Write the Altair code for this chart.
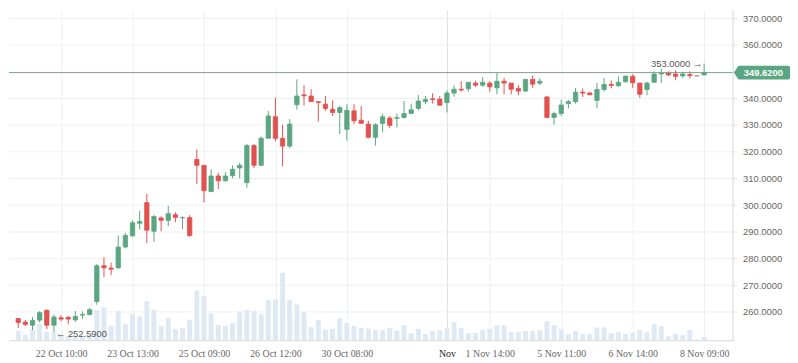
import altair as alt
import pandas as pd
import numpy as np

# ---- data ----
opens = [257.5, 256.2, 255.0, 256.9, 260.6, 255.0, 257.8, 258.0, 257.0, 258.8,
         259.0, 263.9, 277.3, 276.4, 276.5, 284.3, 288.5, 293.2, 300.9, 290.2,
         295.2, 294.3, 296.4, 295.3, 295.3, 317.1, 314.9, 305.05, 310.9, 309.1,
         311.0, 313.9, 308.4, 322.3, 314.9, 325.05, 333.1, 325.0, 322.1, 337.6,
         341.3, 340.85, 338.75, 337.8, 335.9, 334.7, 328.4, 335.3, 331.8, 330.35,
         325.4, 330.6, 332.6, 332.5, 332.8, 334.3, 336.2, 338.75, 339.8, 339.7,
         338.4, 341.96, 343.4, 343.6, 345.7, 344.9, 345.7, 343.9, 346.4, 345.7,
         343.7, 342.7, 347.1, 345.7, 340.5, 332.8, 334.3, 338.0, 338.75, 342.3,
         342.0, 339.2, 343.3, 345.2, 344.7, 346.2, 348.25, 345.7, 343.3, 346.0,
         349.1, 349.5, 349.1, 348.4, 348.9, 348.4, 348.75]
highs = [257.7, 257.0, 258.1, 260.3, 261.0, 259.1, 258.7, 258.4, 260.3, 260.2,
         261.5, 277.9, 280.5, 278.4, 288.6, 289.6, 294.3, 297.9, 304.2, 296.4,
         295.8, 299.7, 297.3, 295.8, 296.2, 320.9, 314.9, 313.4, 312.1, 312.3,
         314.9, 315.9, 322.9, 322.9, 325.7, 335.3, 340.2, 330.1, 332.2, 347.1,
         344.9, 343.4, 338.8, 340.85, 339.2, 337.1, 337.8, 337.8, 337.1, 331.6,
         330.6, 334.3, 333.4, 334.3, 339.0, 338.0, 341.2, 340.85, 341.9, 340.85,
         342.95, 344.9, 346.4, 346.0, 346.65, 347.9, 346.4, 349.5, 347.6, 345.7,
         344.9, 347.1, 348.5, 347.5, 340.85, 335.0, 339.4, 339.4, 343.8, 343.7,
         342.3, 345.8, 347.6, 346.7, 348.2, 348.5, 349.0, 345.7, 346.2, 350.1,
         351.1, 350.1, 350.5, 349.9, 350.1, 348.4, 353.0]
lows = [254.0, 254.7, 253.2, 256.0, 253.6, 252.59, 256.5, 255.4, 256.3, 257.3,
        258.8, 262.7, 273.0, 273.8, 276.0, 283.8, 288.1, 290.9, 285.7, 286.2,
        290.2, 292.1, 293.6, 290.9, 288.1, 307.9, 301.0, 305.0, 306.0, 308.8,
        310.0, 310.0, 306.5, 313.9, 314.6, 325.0, 323.9, 314.5, 321.3, 335.8,
        337.3, 338.75, 331.3, 335.3, 333.4, 326.65, 324.2, 330.3, 330.6, 325.0,
        322.3, 327.3, 328.75, 329.1, 332.45, 334.05, 335.5, 337.75, 338.0, 337.4,
        334.7, 340.6, 342.45, 342.45, 344.3, 344.3, 342.45, 341.5, 341.5, 341.5,
        341.1, 342.45, 343.9, 344.9, 332.8, 330.1, 333.4, 336.2, 338.0, 340.5,
        341.3, 336.2, 342.5, 343.7, 344.3, 345.9, 343.9, 340.2, 341.1, 345.8,
        345.8, 348.25, 346.8, 347.6, 347.4, 348.4, 348.75]
closes = [256.0, 255.3, 256.8, 259.7, 255.0, 258.1, 257.3, 257.3, 258.3, 259.0,
          260.8, 277.3, 276.5, 276.0, 284.3, 288.6, 293.4, 293.9, 290.6, 295.7,
          294.3, 296.8, 295.4, 295.3, 288.6, 314.9, 305.4, 310.9, 309.1, 310.9,
          313.45, 314.9, 322.3, 314.9, 325.05, 333.4, 325.0, 322.1, 330.35, 340.85,
          340.9, 338.75, 338.4, 336.2, 334.7, 336.5, 335.5, 331.6, 330.6, 325.4,
          330.1, 333.1, 329.85, 332.8, 334.3, 335.7, 339.0, 339.6, 339.5, 337.4,
          341.96, 343.4, 343.1, 346.0, 344.9, 346.0, 344.3, 346.4, 345.7, 343.4,
          342.7, 347.1, 345.3, 346.4, 332.8, 334.3, 337.5, 338.75, 342.3, 341.96,
          341.3, 343.3, 345.2, 344.8, 346.0, 348.3, 345.8, 341.5, 345.7, 349.1,
          349.5, 348.75, 348.25, 349.1, 348.5, 348.4, 349.62]
volumes = [960, 530, 1060, 1630, 830, 900, 500, 400, 400, 500,
           600, 3060, 3330, 1460, 2960, 1630, 2660, 2400, 3960, 3060,
           1460, 2230, 1130, 1230, 2060, 5030, 4460, 2700, 1560, 1460,
           1730, 2900, 3060, 2960, 2630, 4060, 4130, 6830, 4060, 3630,
           2830, 1330, 2060, 1060, 1160, 2230, 1730, 1460, 1230, 1160,
           1030, 1030, 1230, 960, 1530, 730, 1160, 630, 930, 1030,
           1230, 1830, 1230, 730, 730, 1030, 1130, 1500, 1500, 800,
           800, 930, 930, 1030, 1930, 1530, 1130, 630, 930, 630,
           630, 1300, 1300, 730, 830, 630, 730, 1030, 830, 1600,
           1430, 400, 630, 530, 1030, 70, 330]

tick_idx = [6, 16, 26, 36, 46, 60, 66, 76, 86, 96]
tick_labels = ["22 Oct 10:00", "23 Oct 13:00", "25 Oct 09:00", "26 Oct 12:00",
               "30 Oct 08:00", "Nov", "1 Nov 14:00", "5 Nov 11:00",
               "6 Nov 14:00", "8 Nov 09:00"]
month_tick = 60
price_ticks = [260, 270, 280, 290, 300, 310, 320, 330, 340, 360, 370]

GREEN = "#5aa682"
RED = "#e05250"
GREY = "#8a8a8a"

n = len(opens)
df = pd.DataFrame({"i": list(range(n)), "open": opens, "high": highs,
                   "low": lows, "close": closes, "vol": volumes})
o = np.array(opens)
c = np.array(closes)
df["dir"] = np.where(c > o, "up", np.where(c < o, "down", "flat"))

color_scale = alt.Scale(domain=["up", "down", "flat"], range=[GREEN, RED, GREY])

label_expr = " : ".join(f"datum.value == {v} ? '{t}'" for v, t in zip(tick_idx, tick_labels)) + " : ''"

X = alt.X("i:Q",
          scale=alt.Scale(domain=[-0.6, 99.3], nice=False, zero=False),
          axis=alt.Axis(values=tick_idx, labelExpr=label_expr, title=None,
                        grid=True,
                        gridColor={"condition": {"test": f"datum.value == {month_tick}", "value": "#dde1e6"}, "value": "#edf0f3"},
                        domainColor="#d3d7dc", ticks=False, tickSize=0,
                        labelPadding=8, labelFont="Liberation Serif", labelFontSize=10,
                        labelColor={"condition": {"test": f"datum.value == {month_tick}", "value": "#222"}, "value": "#666"},
                        labelFlush=False, labelOverlap=False))

price_scale = alt.Scale(domain=[249.4, 373.07], nice=False, zero=False)


def Y(field):
    return alt.Y(field, type="quantitative", scale=price_scale,
                 axis=alt.Axis(orient="right", values=price_ticks, format=".4f",
                               title=None, grid=True, gridColor="#edf0f3",
                               domainColor="#d3d7dc", tickColor="#e3e6ea",
                               tickSize=4, labelPadding=6,
                               labelFont="Liberation Sans", labelFontSize=9.5,
                               labelColor="#666"))


base = alt.Chart(df)

vol = base.mark_bar(width=5, color="#dfe9f4").encode(
    x=X,
    y=alt.Y("vol:Q", scale=alt.Scale(domain=[0, 33400]), axis=None),
)

wick = base.mark_rule(strokeWidth=1).encode(
    x=X, y=Y("low"), y2="high",
    color=alt.Color("dir:N", scale=color_scale, legend=None),
)

body = base.mark_bar(width=4.4, strokeWidth=0.8).encode(
    x=X, y=Y("open"), y2="close",
    color=alt.Color("dir:N", scale=color_scale, legend=None),
    stroke=alt.Stroke("dir:N", scale=color_scale, legend=None),
)

last_price = closes[-1]
last_df = pd.DataFrame({"price": [last_price], "top": [last_price + 2.6],
                        "bot": [last_price - 2.6], "label": [f"{last_price:.4f}"]})
last = alt.Chart(last_df)

last_line = last.mark_rule(color="#7c9f8c", strokeWidth=1).encode(y=Y("price"))
box = last.mark_rect(color=GREEN, cornerRadius=2).encode(
    x=alt.value(737), x2=alt.value(790), y=Y("top"), y2="bot")
tip = last.mark_point(shape="M -0.7 0 L 0 -1 L 0 1 Z", filled=True, size=196,
                      opacity=1, color=GREEN).encode(x=alt.value(738), y=Y("price"))
box_text = last.mark_text(color="white", fontWeight="bold", fontSize=9.5,
                          font="Liberation Sans").encode(
    x=alt.value(763), y=Y("price"), text="label")

lo = df.loc[df["low"].idxmin()]
hi = df.loc[df["high"].idxmax()]
lo_df = pd.DataFrame({"i": [int(lo["i"])], "price": [lo["low"]], "txt": [f"\u2190 {lo['low']:.4f}"]})
hi_df = pd.DataFrame({"i": [int(hi["i"])], "price": [hi["high"]], "txt": [f"{hi['high']:.4f} \u2192"]})

lo_text = alt.Chart(lo_df).mark_text(align="left", dx=2, dy=2, baseline="middle", fontSize=9.5,
                                     font="Liberation Sans", color="#555").encode(
    x=X, y=Y("price"), text="txt")
hi_text = alt.Chart(hi_df).mark_text(align="right", dx=-2, baseline="middle", fontSize=9.5,
                                     font="Liberation Sans", color="#555").encode(
    x=X, y=Y("price"), text="txt")

price_layer = alt.layer(wick, body, last_line, lo_text, hi_text, box, tip, box_text)

chart = alt.layer(vol, price_layer).resolve_scale(y="independent").properties(
    width=732, height=334, padding=0, background="white"
).configure_view(strokeWidth=0)

chart.save("out.html", embed_options={"renderer": "svg", "actions": False})
